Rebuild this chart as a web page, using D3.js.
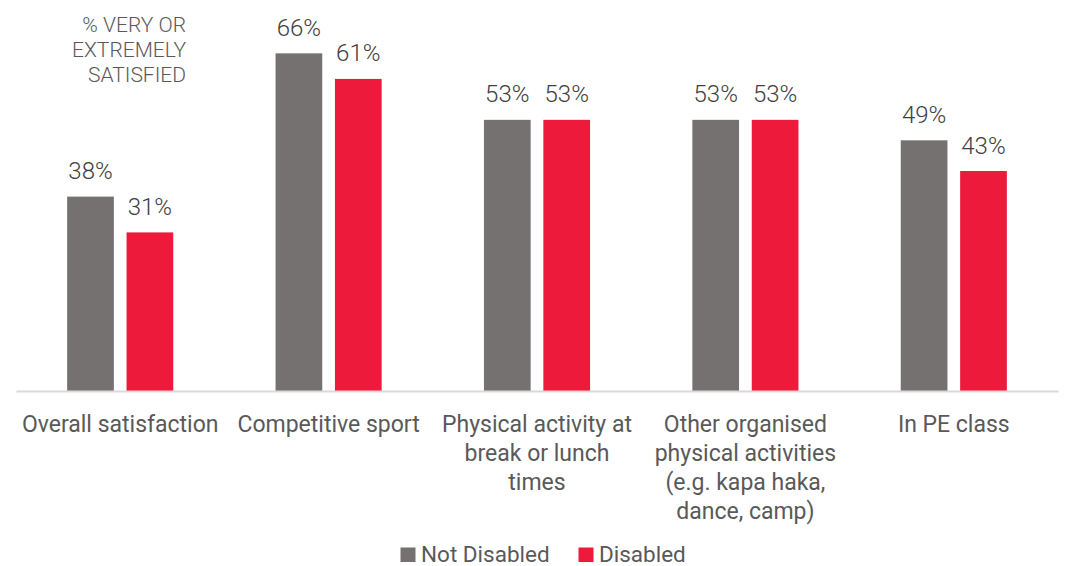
<!DOCTYPE html>
<html>
<head>
<meta charset="utf-8">
<script src="https://cdn.jsdelivr.net/npm/d3@7/dist/d3.min.js"></script>
<style>
  html, body { margin: 0; padding: 0; background: #fff; }
  svg { display: block; font-family: Roboto, "Noto Sans", sans-serif; }
</style>
</head>
<body>
<svg id="chart" width="1068" height="566"></svg>
<script>
const categories = [
  ["Overall satisfaction"],
  ["Competitive sport"],
  ["Physical activity at", "break or lunch", "times"],
  ["Other organised", "physical activities", "(e.g. kapa haka,", "dance, camp)"],
  ["In PE class"]
];
const series = ["Not Disabled", "Disabled"];
const notDisabled = [38, 66, 53, 53, 49];
const disabled = [31, 61, 53, 53, 43];
const colors = ["#767171", "#ED1A3B"];
const titleLines = ["% VERY OR", "EXTREMELY", "SATISFIED"];

const values = [notDisabled, disabled];
const catKeys = categories.map(c => c.join(" "));

const svg = d3.select("#chart");
const baseY = 391;
const y = d3.scaleLinear().domain([0, 100]).range([baseY, baseY - 511.6]);
const x0 = d3.scaleBand().domain(catKeys).range([16, 1058]).paddingInner(0).paddingOuter(0);
const groupW = 106.1;
const x1 = d3.scaleBand().domain(series)
  .range([(x0.bandwidth() - groupW) / 2, (x0.bandwidth() + groupW) / 2])
  .paddingInner(0.2138).paddingOuter(0);

// bars
const groups = svg.append("g").selectAll("g").data(catKeys).join("g")
  .attr("transform", d => `translate(${x0(d)},0)`);

groups.each(function(cat, ci) {
  const g = d3.select(this);
  series.forEach((s, si) => {
    const v = values[si][ci];
    g.append("rect")
      .attr("x", x1(s))
      .attr("width", x1.bandwidth())
      .attr("y", y(v))
      .attr("height", baseY - y(v))
      .attr("fill", colors[si]);
    g.append("text")
      .attr("x", x1(s) + x1.bandwidth() / 2)
      .attr("y", y(v) - 17.5)
      .attr("text-anchor", "middle")
      .attr("font-size", 24)
      .attr("font-weight", 300)
      .attr("fill", "#404040")
      .text(v + "%");
  });
});

// axis line
const axis = svg.append("g").attr("transform", `translate(0,${baseY})`)
  .call(d3.axisBottom(x0).tickSize(0).tickFormat(""));
axis.select(".domain").attr("stroke", "#D9D9D9").attr("stroke-width", 2);

// category labels
categories.forEach((lines, ci) => {
  const t = svg.append("text")
    .attr("text-anchor", "middle")
    .attr("font-size", 23)
    .attr("fill", "#595959");
  lines.forEach((ln, li) => {
    t.append("tspan")
      .attr("x", x0(catKeys[ci]) + x0.bandwidth() / 2)
      .attr("y", 432 + li * 29)
      .text(ln);
  });
});

// title
const tt = svg.append("text").attr("text-anchor", "end").attr("font-size", 21)
  .attr("font-weight", 300).attr("fill", "#595959");
titleLines.forEach((ln, i) => {
  tt.append("tspan").attr("x", 186).attr("y", 31.7 + i * 25).text(ln);
});

// legend
const legendX = [400.5, 578.5];
series.forEach((s, i) => {
  svg.append("rect").attr("x", legendX[i]).attr("y", 547.5).attr("width", 15).attr("height", 14.5).attr("fill", colors[i]);
  svg.append("text").attr("x", legendX[i] + 20.5).attr("y", 561.5)
    .attr("font-size", 22.5).attr("fill", "#595959").text(s);
});
</script>
</body>
</html>
